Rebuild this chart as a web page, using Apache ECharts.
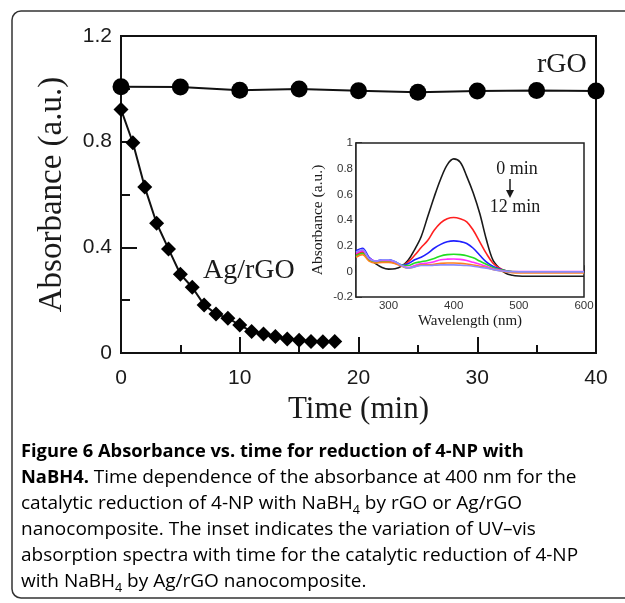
<!DOCTYPE html>
<html>
<head>
<meta charset="utf-8">
<script src="https://cdn.jsdelivr.net/npm/echarts@6/dist/echarts.min.js"></script>
<style>
html,body{margin:0;padding:0;background:#fff;}
#chart{width:625px;height:603px;}
</style>
</head>
<body>
<div id="chart"></div>
<script>
// ---- main plot data ----
const agTime = [0,1,2,3,4,5,6,7,8,9,10,11,12,13,14,15,16,17,18];
const agAbs  = [0.922,0.796,0.628,0.491,0.394,0.298,0.249,0.182,0.148,0.132,0.106,0.081,0.072,0.062,0.053,0.048,0.044,0.043,0.044];
const rgoTime = [0,5,10,15,20,25,30,35,40];
const rgoAbs  = [1.008,1.007,0.995,0.999,0.993,0.987,0.992,0.994,0.992];

// ---- inset data (UV-vis spectra) ----
const wavelength = [250,260,270,280,290,300,310,320,330,340,350,360,370,380,390,400,410,420,430,440,450,460,470,480,490,500,510,520,530,540,550,560,570,580,590,600];
const spec0min  = [0.14,0.16,0.10,0.06,0.03,0.017,0.02,0.04,0.086,0.17,0.27,0.425,0.58,0.72,0.83,0.876,0.85,0.74,0.61,0.45,0.25,0.09,0.025,-0.016,-0.03,-0.036,-0.038,-0.038,-0.038,-0.038,-0.038,-0.038,-0.038,-0.038,-0.038,-0.038];
const specRed   = [0.13,0.15,0.09,0.07,0.075,0.075,0.065,0.047,0.073,0.125,0.185,0.24,0.32,0.378,0.41,0.42,0.41,0.386,0.32,0.23,0.14,0.065,0.026,0.005,-0.004,-0.006,-0.006,-0.006,-0.006,-0.006,-0.006,-0.006,-0.006,-0.006,-0.006,-0.006];
const specBlue  = [0.16,0.18,0.11,0.08,0.09,0.09,0.075,0.05,0.06,0.09,0.11,0.14,0.18,0.21,0.23,0.237,0.232,0.217,0.18,0.125,0.073,0.039,0.02,0.005,-0.003,-0.004,-0.004,-0.004,-0.004,-0.004,-0.004,-0.004,-0.004,-0.004,-0.004,-0.004];
const specGreen = [0.12,0.14,0.09,0.07,0.075,0.075,0.07,0.05,0.045,0.065,0.075,0.085,0.10,0.12,0.13,0.133,0.13,0.122,0.105,0.08,0.055,0.03,0.015,0.005,-0.002,-0.003,-0.003,-0.003,-0.003,-0.003,-0.003,-0.003,-0.003,-0.003,-0.003,-0.003];
const specMag   = [0.14,0.16,0.10,0.08,0.085,0.085,0.07,0.045,0.03,0.045,0.06,0.065,0.075,0.09,0.095,0.096,0.093,0.085,0.07,0.055,0.04,0.02,0.01,0.0,-0.002,-0.002,-0.002,-0.002,-0.002,-0.002,-0.002,-0.002,-0.002,-0.002,-0.002,-0.002];
const specOrg   = [0.11,0.13,0.08,0.065,0.07,0.07,0.06,0.04,0.025,0.035,0.05,0.05,0.055,0.062,0.065,0.065,0.062,0.057,0.05,0.04,0.03,0.015,0.005,-0.005,-0.01,-0.012,-0.012,-0.012,-0.012,-0.012,-0.012,-0.012,-0.012,-0.012,-0.012,-0.012];
const specLav   = [0.15,0.17,0.10,0.08,0.09,0.09,0.075,0.045,0.025,0.035,0.045,0.045,0.047,0.05,0.05,0.05,0.048,0.045,0.04,0.032,0.025,0.015,0.005,0.0,-0.003,-0.004,-0.004,-0.004,-0.004,-0.004,-0.004,-0.004,-0.004,-0.004,-0.004,-0.004];
const specColors = ['#1a1a1a','#ff2020','#2020ff','#22dd22','#ff30ff','#ff8020','#8c8cff'];
const specNames = ['0 min','t1','t2','t3','t4','t5','12 min'];

const mainXTicks = [0,10,20,30,40];
const mainYTicks = [0,0.4,0.8,1.2];

const captionLines = [
  '{b|Figure 6 Absorbance vs. time for reduction of 4-NP with}',
  '{b|NaBH4.}{r| Time dependence of the absorbance at 400 nm for the}',
  '{r|catalytic reduction of 4-NP with NaBH}{s|4}{r| by rGO or Ag/rGO}',
  '{r|nanocomposite. The inset indicates the variation of UV\u2013vis}',
  '{r|absorption spectra with time for the catalytic reduction of 4-NP}',
  '{r|with NaBH}{s|4}{r| by Ag/rGO nanocomposite.}'
];

const pair = (xs, ys) => xs.map((x, i) => [x, ys[i]]);
const specs = [spec0min, specRed, specBlue, specGreen, specMag, specOrg, specLav];

const chart = echarts.init(document.getElementById('chart'), null, {renderer: 'canvas'});
const sans = 'Liberation Sans, Arial, sans-serif';
const serif = 'Liberation Serif, Times New Roman, serif';
const capRich = {
  b: {fontFamily: 'Open Sans', fontWeight: 'bold', fontSize: 18.3, color: '#231f20', lineHeight: 26},
  r: {fontFamily: 'Open Sans', fontSize: 19, color: '#505052', lineHeight: 26},
  s: {fontFamily: 'Open Sans', fontSize: 12.5, color: '#505052', lineHeight: 14, verticalAlign: 'bottom'}
};
const capY = [452, 478, 504, 530, 556, 582];

const graphic = [
  {type: 'rect', shape: {x: 12, y: 11, width: 640, height: 587, r: 9}, style: {fill: 'none', stroke: '#333', lineWidth: 1.5}, z: -1},
  {type: 'text', style: {text: 'rGO', x: 537, y: 79, font: '28px ' + serif, fill: '#1a1a1a', textVerticalAlign: 'bottom'}, z: 10},
  {type: 'text', style: {text: 'Ag/rGO', x: 203, y: 285, font: '28px ' + serif, fill: '#1a1a1a', textVerticalAlign: 'bottom'}, z: 10},
  {type: 'text', style: {text: '0 min', x: 517, y: 169, font: '18px ' + serif, fill: '#1a1a1a', textAlign: 'center', textVerticalAlign: 'middle'}, z: 20},
  {type: 'text', style: {text: '12 min', x: 515, y: 207, font: '18px ' + serif, fill: '#1a1a1a', textAlign: 'center', textVerticalAlign: 'middle'}, z: 20},
  {type: 'line', shape: {x1: 510, y1: 179, x2: 510, y2: 195}, style: {stroke: '#1a1a1a', lineWidth: 1.5}, z: 20},
  {type: 'polygon', shape: {points: [[506, 190], [514, 190], [510, 198]]}, style: {fill: '#1a1a1a'}, z: 20}
];
captionLines.forEach((t, i) => {
  graphic.push({type: 'text', style: {text: t, x: 21, y: capY[i], rich: capRich, textVerticalAlign: 'middle'}, z: 10});
});

const option = {
  animation: false,
  backgroundColor: '#fff',
  graphic: graphic,
  grid: [
    {left: 121, top: 36, width: 475, height: 317, show: true, borderColor: '#111', borderWidth: 2, backgroundColor: 'transparent'},
    {left: 356, top: 143, width: 228, height: 154, show: true, borderColor: '#222', borderWidth: 1.5, backgroundColor: '#fff', z: 5}
  ],
  xAxis: [
    {
      type: 'value', gridIndex: 0, min: 0, max: 40, interval: 10,
      name: 'Time (min)', nameLocation: 'middle', nameGap: 39,
      nameTextStyle: {fontFamily: serif, fontSize: 31, color: '#1a1a1a'},
      axisLine: {lineStyle: {color: '#111', width: 2}},
      axisTick: {inside: true, length: 16, lineStyle: {color: '#111', width: 2}},
      minorTick: {show: true, splitNumber: 2, length: 8, lineStyle: {color: '#111', width: 2}},
      splitLine: {show: false},
      axisLabel: {fontFamily: sans, fontSize: 21, color: '#1a1a1a', margin: 15,
        formatter: v => mainXTicks.includes(v) ? String(v) : ''}
    },
    {
      type: 'value', gridIndex: 1, min: 250, max: 600, interval: 50,
      name: 'Wavelength (nm)', nameLocation: 'middle', nameGap: 17,
      nameTextStyle: {fontFamily: serif, fontSize: 15, color: '#1a1a1a'},
      axisLine: {lineStyle: {color: '#222', width: 1.5}},
      axisTick: {inside: true, length: 6, lineStyle: {color: '#222', width: 1.5}},
      splitLine: {show: false},
      axisLabel: {fontFamily: sans, fontSize: 11.5, color: '#333', margin: 3,
        formatter: v => (v % 100 === 0) ? String(v) : ''}
    }
  ],
  yAxis: [
    {
      type: 'value', gridIndex: 0, min: 0, max: 1.2, interval: 0.4,
      name: 'Absorbance (a.u.)', nameLocation: 'middle', nameGap: 52,
      nameTextStyle: {fontFamily: serif, fontSize: 33, color: '#1a1a1a'},
      axisLine: {lineStyle: {color: '#111', width: 2}},
      axisTick: {inside: true, length: 16, lineStyle: {color: '#111', width: 2}},
      minorTick: {show: true, splitNumber: 2, length: 9, lineStyle: {color: '#111', width: 2}},
      splitLine: {show: false},
      axisLabel: {fontFamily: sans, fontSize: 21, color: '#1a1a1a', margin: 9,
        formatter: v => { const r = Math.round(v * 10) / 10; return mainYTicks.includes(r) ? (r === 0 ? '0' : r.toFixed(1)) : ''; }}
    },
    {
      type: 'value', gridIndex: 1, min: -0.2, max: 1, interval: 0.2,
      name: 'Absorbance (a.u.)', nameLocation: 'middle', nameGap: 30,
      nameTextStyle: {fontFamily: serif, fontSize: 15.5, color: '#1a1a1a'},
      axisLine: {lineStyle: {color: '#222', width: 1.5}},
      axisTick: {inside: true, length: 6, lineStyle: {color: '#222', width: 1.5}},
      minorTick: {show: true, splitNumber: 2, length: 4, lineStyle: {color: '#222', width: 1.5}},
      splitLine: {show: false},
      axisLabel: {fontFamily: sans, fontSize: 11.5, color: '#333', margin: 3,
        formatter: v => { const r = Math.round(v * 10) / 10; return r === 0 ? '0' : (r === 1 ? '1' : r.toFixed(1)); }}
    }
  ],
  series: [
    {
      name: 'rGO', type: 'line', xAxisIndex: 0, yAxisIndex: 0,
      data: pair(rgoTime, rgoAbs), symbol: 'circle', symbolSize: 17,
      itemStyle: {color: '#000'}, lineStyle: {color: '#111', width: 2}, z: 3
    },
    {
      name: 'Ag/rGO', type: 'line', xAxisIndex: 0, yAxisIndex: 0,
      data: pair(agTime, agAbs), symbol: 'diamond', symbolSize: 15,
      itemStyle: {color: '#000'}, lineStyle: {color: '#111', width: 2}, z: 3
    }
  ].concat(specs.map((s, i) => ({
    name: specNames[i], type: 'line', xAxisIndex: 1, yAxisIndex: 1,
    data: pair(wavelength, s), smooth: 0.35, showSymbol: false, symbol: 'none',
    lineStyle: {color: specColors[i], width: 1.6}, z: 6
  })))
};
chart.setOption(option);
</script>
</body>
</html>
